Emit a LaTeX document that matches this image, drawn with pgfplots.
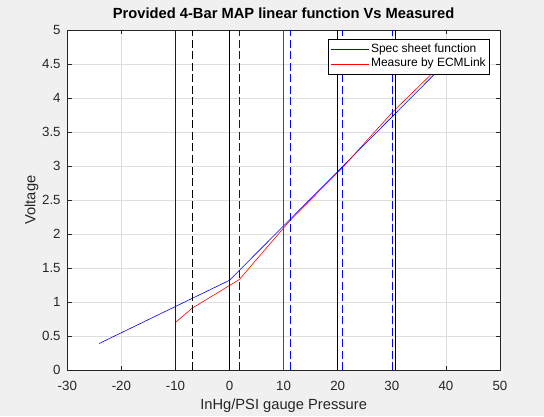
\documentclass[border=0pt]{standalone}
\usepackage{pgfplots}
\pgfplotsset{compat=1.18}
\usepackage{fontspec}
\setmainfont{Liberation Sans}
\definecolor{figbg}{gray}{0.94}
\definecolor{axcol}{gray}{0.15}
\definecolor{gridcol}{gray}{0.87}
\begin{document}
\begin{tikzpicture}
\path[use as bounding box, fill=figbg] (0pt,0pt) rectangle (544pt,416pt);
\begin{axis}[
  at={(67.3pt,46pt)}, anchor=south west,
  scale only axis, width=432.7pt, height=340pt,
  xmin=-30, xmax=50, ymin=0, ymax=5,
  xtick={-30,-20,...,50},
  ytick={0,0.5,...,5},
  axis background/.style={fill=white},
  axis line style={draw=axcol, line width=0.6pt},
  tick style={draw=axcol, line width=0.6pt},
  tick align=inside, tick pos=both,
  major tick length=4.3pt,
  grid=major,
  major grid style={draw=gridcol, line width=0.6pt},
  /pgf/number format/assume math mode=true,
  ticklabel style={font=\fontsize{13.3}{15}\selectfont, text=axcol},
  xticklabel style={anchor=north, inner sep=0pt, yshift=-11.5pt},
  yticklabel style={anchor=east, inner sep=0pt, xshift=-6.5pt},
  title={Provided 4-Bar MAP linear function Vs Measured},
  title style={font=\fontsize{14.7}{17}\selectfont\bfseries, at={(axis description cs:0.5,1)}, anchor=base, inner sep=0pt, yshift=5.8pt, text=black},
  xlabel={InHg/PSI gauge Pressure},
  xlabel style={font=\fontsize{14.7}{17}\selectfont, at={(axis description cs:0.5,0)}, anchor=base, inner sep=0pt, yshift=-39.8pt, text=axcol},
  ylabel={Voltage},
  ylabel style={font=\fontsize{14.7}{17}\selectfont, at={(axis description cs:-0.0735,0.5)}, anchor=base, inner sep=0pt, text=axcol},
  legend style={at={(0.9769,0.9726)}, anchor=north east, draw=black, fill=white, line width=0.5pt,
    font=\fontsize{12}{14}\selectfont, inner xsep=2pt, inner ysep=3pt, row sep=0.3pt,
    nodes={inner xsep=2pt, inner ysep=1pt, text height=9pt, text depth=3pt}},
  legend cell align=left,
]
% sensor transfer functions
\addplot[draw=blue, line width=0.6pt,
  legend image code/.code={\draw[blue, line width=0.6pt] (0pt,0pt) -- (38pt,0pt);}]
  coordinates {(-24.1,0.39) (0,1.32) (40,4.52)};
\addlegendentry{Spec sheet function}
\addplot[draw=red, line width=0.6pt,
  legend image code/.code={\draw[red, line width=0.6pt] (0pt,0pt) -- (38pt,0pt);}]
  coordinates {(-10,0.70) (-6.9,0.91) (1.8,1.33) (11.2,2.20) (20.8,2.97) (30.1,3.79) (40,4.56)};
\addlegendentry{Measure by ECMLink}
% reference pressure markers
\addplot[blue, line width=0.6pt, forget plot] coordinates {(-10,0) (-10,5)};
\addplot[black, line width=0.6pt, dash pattern=on 8pt off 3.5pt, forget plot] coordinates {(-6.9,0) (-6.9,5)};
\addplot[black, line width=0.6pt, forget plot] coordinates {(0,0) (0,5)};
\addplot[blue, line width=0.6pt, dash pattern=on 8pt off 3.5pt, forget plot] coordinates {(1.8,0) (1.8,5)};
\addplot[black!70, line width=0.7pt, forget plot] coordinates {(10,0) (10,5)};
\addplot[blue, line width=0.6pt, dash pattern=on 8pt off 3.5pt, forget plot] coordinates {(11.2,0) (11.2,5)};
\addplot[black, line width=0.6pt, forget plot] coordinates {(20,0) (20,5)};
\addplot[blue, line width=0.6pt, dash pattern=on 8pt off 3.5pt, forget plot] coordinates {(20.8,0) (20.8,5)};
\addplot[blue, line width=0.6pt, dash pattern=on 8pt off 3.5pt, forget plot] coordinates {(30.1,0) (30.1,5)};
\addplot[black, line width=0.6pt, forget plot] coordinates {(30.7,0) (30.7,5)};
\end{axis}
\end{tikzpicture}
\end{document}
